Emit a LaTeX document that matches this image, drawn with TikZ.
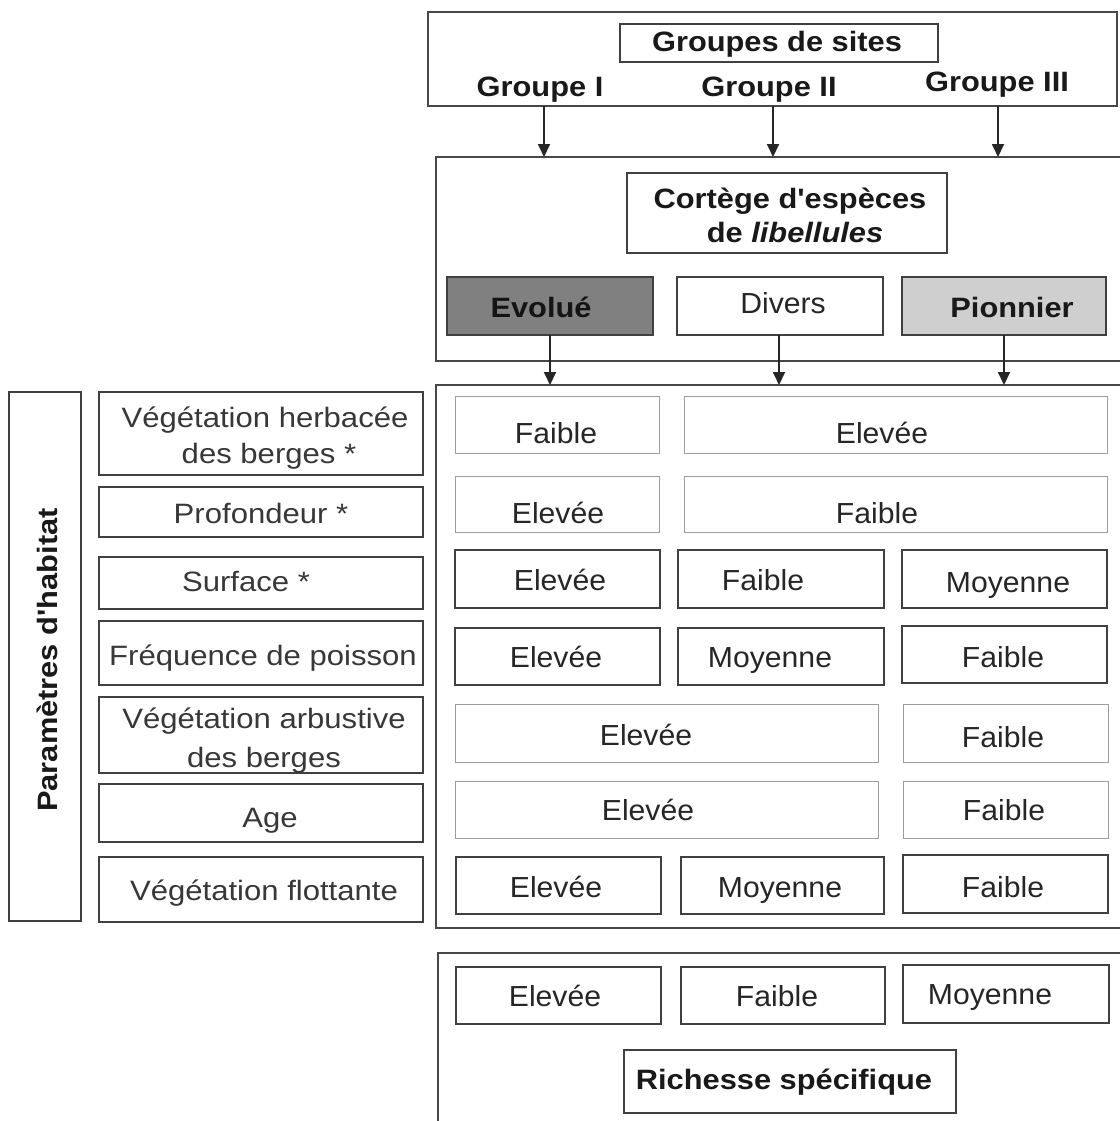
\documentclass[tikz,border=0pt]{standalone}
\usepackage{fontspec}
\setmainfont{Liberation Sans}
\newfontfamily\hfont[FakeStretch=1.1]{Liberation Sans}
\newfontfamily\pfont[FakeStretch=1.11]{Liberation Sans}
\newfontfamily\tfont[FakeStretch=1.04]{Liberation Sans}
\usetikzlibrary{arrows.meta}
\newcommand\bx[6]{\node[#2, minimum width={#5-#3}, minimum height={#6-#4}] (#1) at ({(#3+#5)/2},{(#4+#6)/2}) {};}
\tikzset{
  outer/.style={draw=black!72, line width=1.4pt, inner sep=0pt, outer sep=0pt, fill=none},
  cellD/.style={draw=black!75, line width=1.5pt, inner sep=0pt, outer sep=0pt},
  cellL/.style={draw=black!38, line width=1pt, inner sep=0pt, outer sep=0pt},
  head/.style={anchor=base, inner sep=0pt, text=black!90, font=\hfont\bfseries\fontsize{28}{32}\selectfont},
  plab/.style={anchor=base, inner sep=0pt, text=black!78, font=\pfont\fontsize{28}{32}\selectfont},
  tval/.style={anchor=base, inner sep=0pt, text=black!85, font=\tfont\fontsize{29}{33}\selectfont},
  arr/.style={-{Triangle[length=13pt,width=12pt]}, line width=1.8pt, draw=black!85},
}
\begin{document}
\begin{tikzpicture}[x=1pt,y=-1pt]
\useasboundingbox (0,0) rectangle (1119,1121);
\fill[white] (0,0) rectangle (1119,1121);
% outer frames
\bx{top}{outer}{428}{12}{1117}{106}
\bx{sites}{cellD,line width=1.3pt}{620}{24}{938}{62}
\node[head] (tsites) at (777,52) {Groupes de sites};
\node[head] (g1) at (540,97) {Groupe I};
\node[head] (g2) at (769,97) {Groupe II};
\node[head] (g3) at (997,92) {Groupe III};

\bx{mid}{outer}{436}{157}{1124}{361}
\bx{cort}{cellD,line width=1.3pt}{627}{173}{947}{253}
\node[head] (cort1) at (790,208) {Cortège d'espèces};
\node[head] (cort2) at (795,242) {de \itshape libellules};
\bx{evo}{cellD,fill=black!50}{447}{277}{653}{335}
\bx{div}{cellD}{677}{277}{883}{335}
\bx{pio}{cellD,fill=black!19}{902}{277}{1106}{335}
\node[head,text=black!92] (tevo) at (541,317) {Evolué};
\node[tval] (tdiv) at (783,313) {Divers};
\node[head] (tpio) at (1012,317) {Pionnier};

\bx{tab}{outer}{436}{385}{1124}{928}
\bx{rich}{outer}{438}{953}{1126}{1140}

% arrows
\coordinate (c1) at (544,0);
\coordinate (c2) at (773,0);
\coordinate (c3) at (998,0);
\coordinate (c4) at (550,0);
\coordinate (c5) at (779,0);
\coordinate (c6) at (1004,0);
\draw[arr] (top.south -| c1) -- (mid.north -| c1);
\draw[arr] (top.south -| c2) -- (mid.north -| c2);
\draw[arr] (top.south -| c3) -- (mid.north -| c3);
\draw[arr] (evo.south -| c4) -- (tab.north -| c4);
\draw[arr] (div.south -| c5) -- (tab.north -| c5);
\draw[arr] (pio.south -| c6) -- (tab.north -| c6);

% left label
\bx{param}{cellD,line width=1.3pt}{9}{392}{81}{921}
\node[head,rotate=90] (tparam) at (57,660) {Paramètres d'habitat};

% parameter boxes
\bx{p1}{cellD}{99}{392}{423}{475}
\bx{p2}{cellD}{99}{487}{423}{537}
\bx{p3}{cellD}{99}{557}{423}{609}
\bx{p4}{cellD}{99}{621}{423}{685}
\bx{p5}{cellD}{99}{697}{423}{773}
\bx{p6}{cellD}{99}{784}{423}{842}
\bx{p7}{cellD}{99}{857}{423}{922}
\node[plab] (tp1a) at (265,427) {Végétation herbacée};
\node[plab] (tp1b) at (269,463) {des berges *};
\node[plab] (tp2) at (261,523) {Profondeur *};
\node[plab] (tp3) at (246,591) {Surface *};
\node[plab] (tp4) at (263,665) {Fréquence de poisson};
\node[plab] (tp5a) at (264,728) {Végétation arbustive};
\node[plab] (tp5b) at (264,767) {des berges};
\node[plab] (tp6) at (270,827) {Age};
\node[plab] (tp7) at (264,900) {Végétation flottante};

% table cells
\bx{r1a}{cellL}{455}{396}{659}{453}
\bx{r1b}{cellL}{684}{396}{1107}{453}
\bx{r2a}{cellL}{455}{476}{659}{532}
\bx{r2b}{cellL}{684}{476}{1107}{532}
\bx{r3a}{cellD}{455}{550}{660}{608}
\bx{r3b}{cellD}{678}{550}{884}{608}
\bx{r3c}{cellD}{902}{550}{1107}{608}
\bx{r4a}{cellD}{455}{628}{660}{685}
\bx{r4b}{cellD}{678}{628}{884}{685}
\bx{r4c}{cellD}{902}{626}{1107}{683}
\bx{r5a}{cellL}{455}{704}{878}{762}
\bx{r5c}{cellL}{903}{704}{1108}{762}
\bx{r6a}{cellL}{455}{781}{878}{838}
\bx{r6c}{cellL}{903}{781}{1108}{838}
\bx{r7a}{cellD}{456}{857}{661}{914}
\bx{r7b}{cellD}{681}{857}{884}{914}
\bx{r7c}{cellD}{903}{855}{1108}{913}

\node[tval] at (556,443) {Faible};
\node[tval] at (882,443) {Elevée};
\node[tval] at (558,523) {Elevée};
\node[tval] at (877,523) {Faible};
\node[tval] at (560,590) {Elevée};
\node[tval] at (763,590) {Faible};
\node[tval] at (1008,592) {Moyenne};
\node[tval] at (556,667) {Elevée};
\node[tval] at (770,667) {Moyenne};
\node[tval] at (1003,667) {Faible};
\node[tval] at (646,745) {Elevée};
\node[tval] at (1003,747) {Faible};
\node[tval] at (648,820) {Elevée};
\node[tval] at (1004,820) {Faible};
\node[tval] at (556,897) {Elevée};
\node[tval] at (780,897) {Moyenne};
\node[tval] at (1003,897) {Faible};

% richness
\bx{s1}{cellD}{456}{967}{661}{1024}
\bx{s2}{cellD}{681}{967}{885}{1024}
\bx{s3}{cellD}{903}{965}{1109}{1023}
\node[tval] at (555,1006) {Elevée};
\node[tval] at (777,1006) {Faible};
\node[tval] at (990,1004) {Moyenne};
\bx{rs}{cellD,line width=1.3pt}{624}{1050}{956}{1113}
\node[head] (trs) at (784,1089) {Richesse spécifique};
\end{tikzpicture}
\end{document}
